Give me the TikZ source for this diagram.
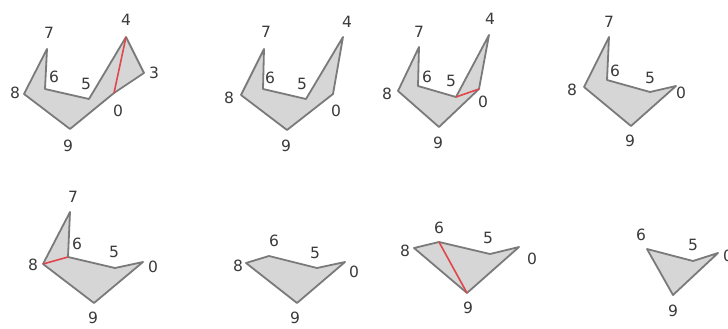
\documentclass[tikz,border=0pt]{standalone}
\usepackage{fontspec}
\setmainfont{DejaVu Sans}
\begin{document}
\begin{tikzpicture}[x=1pt,y=-1pt,
  poly/.style={draw=edgegray,fill=fillgray,line width=1.8pt,line join=round},
  diag/.style={draw=redline,line width=1.6pt},
  lbl/.style={text=labelgray,font=\fontsize{15.5}{15.5}\selectfont,inner sep=0pt}]
\definecolor{edgegray}{HTML}{7A7A7A}
\definecolor{fillgray}{HTML}{D6D6D6}
\definecolor{redline}{HTML}{E0474C}
\definecolor{labelgray}{HTML}{3A3A3A}
\useasboundingbox[fill=white] (0,0) rectangle (728,329);
% ---------- panel 1
\coordinate (p1v0) at (114,93);
\coordinate (p1v3) at (144,73);
\coordinate (p1v4) at (126,37);
\coordinate (p1v5) at (89,99);
\coordinate (p1v6) at (45,89);
\coordinate (p1v7) at (47,49);
\coordinate (p1v8) at (24,94);
\coordinate (p1v9) at (70,129);
\draw[poly] (p1v0)--(p1v3)--(p1v4)--(p1v5)--(p1v6)--(p1v7)--(p1v8)--(p1v9)--cycle;
\draw[diag] (p1v4)--(p1v0);
\node[lbl] (p1l4) at (126,20) {4};
\node[lbl] (p1l3) at (154,73) {3};
\node[lbl] (p1l0) at (118,111) {0};
\node[lbl] (p1l9) at (68,146) {9};
\node[lbl] (p1l8) at (15,93) {8};
\node[lbl] (p1l7) at (49,33) {7};
\node[lbl] (p1l6) at (54,77) {6};
\node[lbl] (p1l5) at (86,84) {5};
% ---------- panel 2
\coordinate (p2v0) at (333,94);
\coordinate (p2v4) at (343,37);
\coordinate (p2v5) at (306,99);
\coordinate (p2v6) at (263,89);
\coordinate (p2v7) at (264,49);
\coordinate (p2v8) at (241,95);
\coordinate (p2v9) at (287,130);
\draw[poly] (p2v0)--(p2v4)--(p2v5)--(p2v6)--(p2v7)--(p2v8)--(p2v9)--cycle;
\node[lbl] (p2l4) at (347,22) {4};
\node[lbl] (p2l0) at (336,111) {0};
\node[lbl] (p2l9) at (286,146) {9};
\node[lbl] (p2l8) at (229,98) {8};
\node[lbl] (p2l7) at (266,32) {7};
\node[lbl] (p2l6) at (270,78) {6};
\node[lbl] (p2l5) at (302,84) {5};
% ---------- panel 3
\coordinate (p3v0) at (479,89);
\coordinate (p3v4) at (489,35);
\coordinate (p3v5) at (456,97);
\coordinate (p3v6) at (418,86);
\coordinate (p3v7) at (419,47);
\coordinate (p3v8) at (398,91);
\coordinate (p3v9) at (439,127);
\draw[poly] (p3v0)--(p3v4)--(p3v5)--(p3v6)--(p3v7)--(p3v8)--(p3v9)--cycle;
\draw[diag] (p3v5)--(p3v0);
\node[lbl] (p3l4) at (490,19) {4};
\node[lbl] (p3l0) at (483,102) {0};
\node[lbl] (p3l9) at (438,143) {9};
\node[lbl] (p3l8) at (387,94) {8};
\node[lbl] (p3l7) at (419,32) {7};
\node[lbl] (p3l6) at (427,77) {6};
\node[lbl] (p3l5) at (451,81) {5};
% ---------- panel 4
\coordinate (p4v0) at (676,86);
\coordinate (p4v5) at (650,92);
\coordinate (p4v6) at (607,80);
\coordinate (p4v7) at (609,37);
\coordinate (p4v8) at (584,87);
\coordinate (p4v9) at (631,126);
\draw[poly] (p4v0)--(p4v5)--(p4v6)--(p4v7)--(p4v8)--(p4v9)--cycle;
\node[lbl] (p4l0) at (681,93) {0};
\node[lbl] (p4l9) at (630,141) {9};
\node[lbl] (p4l8) at (572,90) {8};
\node[lbl] (p4l7) at (609,22) {7};
\node[lbl] (p4l6) at (615,71) {6};
\node[lbl] (p4l5) at (650,78) {5};
% ---------- panel 5
\coordinate (p5v0) at (143,262);
\coordinate (p5v5) at (115,268);
\coordinate (p5v6) at (68,257);
\coordinate (p5v7) at (70,212);
\coordinate (p5v8) at (43,264);
\coordinate (p5v9) at (94,303);
\draw[poly] (p5v0)--(p5v5)--(p5v6)--(p5v7)--(p5v8)--(p5v9)--cycle;
\draw[diag] (p5v8)--(p5v6);
\node[lbl] (p5l0) at (153,267) {0};
\node[lbl] (p5l9) at (93,318) {9};
\node[lbl] (p5l8) at (33,265) {8};
\node[lbl] (p5l7) at (73,197) {7};
\node[lbl] (p5l6) at (77,244) {6};
\node[lbl] (p5l5) at (114,252) {5};
% ---------- panel 6
\coordinate (p6v0) at (345,262);
\coordinate (p6v5) at (317,268);
\coordinate (p6v6) at (269,256);
\coordinate (p6v8) at (246,263);
\coordinate (p6v9) at (297,303);
\draw[poly] (p6v0)--(p6v5)--(p6v6)--(p6v8)--(p6v9)--cycle;
\node[lbl] (p6l0) at (354,272) {0};
\node[lbl] (p6l9) at (295,318) {9};
\node[lbl] (p6l8) at (238,266) {8};
\node[lbl] (p6l6) at (274,241) {6};
\node[lbl] (p6l5) at (315,253) {5};
% ---------- panel 7
\coordinate (p7v0) at (519,247);
\coordinate (p7v5) at (490,254);
\coordinate (p7v6) at (439,242);
\coordinate (p7v8) at (414,248);
\coordinate (p7v9) at (467,293);
\draw[poly] (p7v0)--(p7v5)--(p7v6)--(p7v8)--(p7v9)--cycle;
\draw[diag] (p7v6)--(p7v9);
\node[lbl] (p7l0) at (532,259) {0};
\node[lbl] (p7l9) at (468,308) {9};
\node[lbl] (p7l8) at (405,251) {8};
\node[lbl] (p7l6) at (439,228) {6};
\node[lbl] (p7l5) at (488,238) {5};
% ---------- panel 8
\coordinate (p8v0) at (718,253);
\coordinate (p8v5) at (693,261);
\coordinate (p8v6) at (647,249);
\coordinate (p8v9) at (673,295);
\draw[poly] (p8v0)--(p8v5)--(p8v6)--(p8v9)--cycle;
\node[lbl] (p8l0) at (728,256) {0};
\node[lbl] (p8l9) at (673,311) {9};
\node[lbl] (p8l6) at (641,235) {6};
\node[lbl] (p8l5) at (693,245) {5};
\end{tikzpicture}
\end{document}
